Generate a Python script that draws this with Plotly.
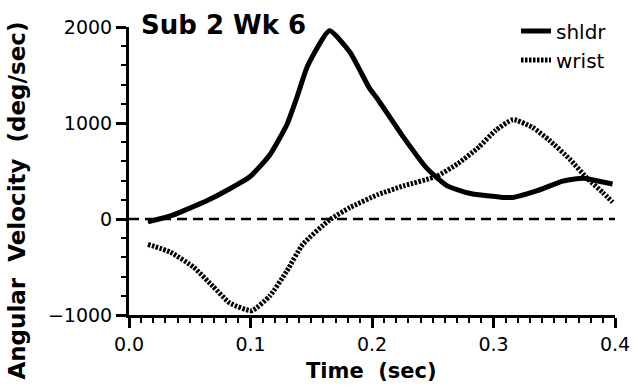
import plotly.graph_objects as go

# Data
t_shldr = [0.0156, 0.036, 0.064, 0.083, 0.100, 0.116, 0.130, 0.138, 0.147, 0.165,
           0.182, 0.198, 0.204, 0.226, 0.245, 0.262, 0.281, 0.308, 0.316, 0.336,
           0.357, 0.374, 0.390, 0.398]
v_shldr = [-30, 40, 190, 315, 445, 670, 985, 1260, 1595, 1960,
           1735, 1360, 1260, 850, 530, 345, 265, 225, 225, 295,
           395, 425, 385, 365]

t_wrist = [0.0156, 0.034, 0.053, 0.069, 0.083, 0.101, 0.116, 0.130, 0.143, 0.165,
           0.182, 0.205, 0.226, 0.253, 0.271, 0.288, 0.302, 0.316, 0.332, 0.346,
           0.363, 0.377, 0.390, 0.398]
v_wrist = [-265, -345, -500, -700, -875, -955, -800, -540, -265, -10,
           120, 255, 345, 445, 580, 750, 925, 1035, 955, 820,
           620, 425, 275, 175]

series_names = ["shldr", "wrist"]
X_RANGE = [0, 0.4]
Y_RANGE = [-1000, 2000]
zero_y = [0, 0]

FONT = "DejaVu Sans"
NB = "\u00a0"
DOT = "2.5px,1.5px"

fig = go.Figure()
fig.add_trace(go.Scatter(x=t_shldr, y=v_shldr, mode="lines", name=series_names[0],
                         line=dict(color="black", width=5, shape="spline", smoothing=0.5)))
fig.add_trace(go.Scatter(x=t_wrist, y=v_wrist, mode="lines", name=series_names[1],
                         line=dict(color="black", width=5, dash=DOT,
                                   shape="spline", smoothing=0.5)))
# zero reference line as a trace
fig.add_trace(go.Scatter(x=X_RANGE, y=zero_y, mode="lines", showlegend=False,
                         hoverinfo="skip",
                         line=dict(color="black", width=2.5, dash="10px,6px")))

L = 129; W = 486; T = 18; H = 297
def px(x): return (x - L) / W
def py(y): return (T + H - y) / H

# title
fig.add_annotation(text="<b>Sub 2 Wk 6</b>", xref="paper", yref="paper",
                   x=px(139), y=py(16), xanchor="left", yanchor="middle", showarrow=False,
                   font=dict(family=FONT, size=26, color="black"))
# axis titles
fig.add_annotation(text=f"<b>Time{NB}{NB}(sec)</b>", xref="paper", yref="paper",
                   x=px(371), y=py(373), xanchor="center", yanchor="middle", showarrow=False,
                   font=dict(family=FONT, size=21, color="black"))
fig.add_annotation(text=f"<b>Angular{NB}{NB}Velocity{NB}{NB}(deg/sec)</b>", xref="paper", yref="paper",
                   x=px(17), y=py(197), xanchor="center", yanchor="middle", showarrow=False,
                   textangle=-90, font=dict(family=FONT, size=23, color="black"))

fig.update_layout(
    width=642, height=392,
    margin=dict(l=L, r=642 - L - W, t=T, b=392 - T - H),
    plot_bgcolor="white",
    showlegend=True,
    legend=dict(x=px(516), y=py(2), xanchor="left", yanchor="top",
                bgcolor="rgba(0,0,0,0)", borderwidth=0,
                font=dict(family=FONT, size=20, color="black"),
                tracegroupgap=0, itemwidth=30),
    xaxis=dict(range=X_RANGE, dtick=0.1, tickformat=".1f", ticks="outside", ticklen=10,
               tickwidth=3, tickcolor="black", showline=True, linecolor="black", linewidth=3,
               gridcolor="rgba(0,0,0,0)", zerolinecolor="rgba(0,0,0,0)",
               tickfont=dict(family=FONT, size=19, color="black"),
               minor=dict(dtick=0.01, ticks="outside", ticklen=5, tickwidth=2,
                          tickcolor="black")),
    yaxis=dict(range=Y_RANGE, dtick=1000, ticks="outside", ticklen=10,
               tickwidth=3, tickcolor="black", showline=True, linecolor="black", linewidth=3,
               gridcolor="rgba(0,0,0,0)", zerolinecolor="rgba(0,0,0,0)",
               tickfont=dict(family=FONT, size=19, color="black"),
               minor=dict(dtick=200, ticks="outside", ticklen=5, tickwidth=2,
                          tickcolor="black")),
)

fig.write_html("out.html")
